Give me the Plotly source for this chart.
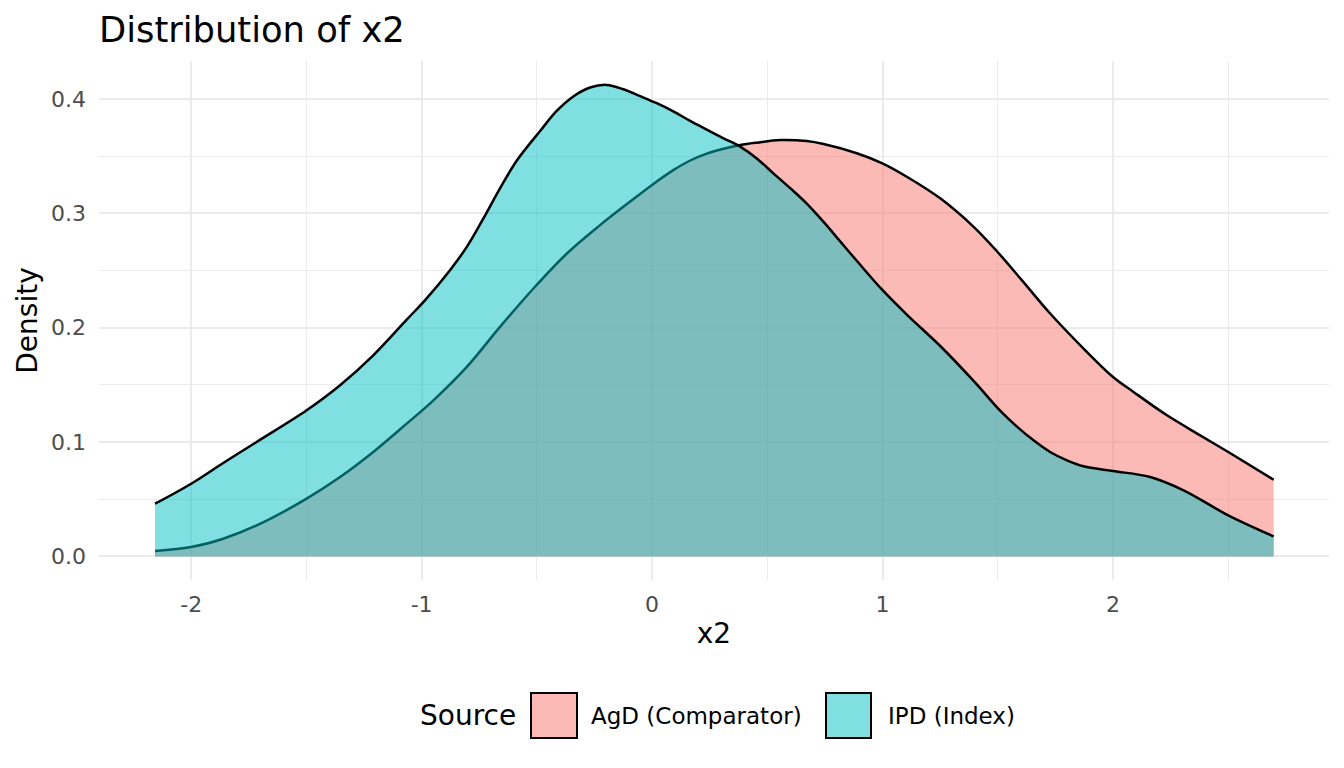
import plotly.graph_objects as go

# ---- data ----
ipd_x = [-2.157, -2.0, -1.861, -1.716, -1.499, -1.354, -1.21, -1.065, -0.985, -0.877,
         -0.804, -0.732, -0.660, -0.587, -0.486, -0.414, -0.342, -0.269, -0.197, -0.125,
         -0.052, 0.020, 0.092, 0.165, 0.237, 0.310, 0.382, 0.454, 0.526, 0.599,
         0.671, 0.744, 0.816, 0.888, 0.999, 1.105, 1.25, 1.395, 1.510, 1.583,
         1.655, 1.727, 1.800, 1.872, 2.0, 2.161, 2.306, 2.5, 2.697]
ipd_y = [0.0461, 0.0636, 0.0817, 0.1001, 0.1278, 0.1497, 0.1759, 0.2070, 0.2241, 0.2503,
         0.2707, 0.2956, 0.3218, 0.3462, 0.3720, 0.3895, 0.4022, 0.4100, 0.4123, 0.4085,
         0.4025, 0.3963, 0.3892, 0.3808, 0.3732, 0.3656, 0.3583, 0.3480, 0.3350, 0.3220,
         0.3085, 0.2925, 0.2755, 0.2585, 0.2330, 0.2115, 0.1840, 0.1535, 0.1275, 0.1135,
         0.1015, 0.0913, 0.0840, 0.0788, 0.0747, 0.0694, 0.0578, 0.0359, 0.0175]

agd_x = [-2.157, -2.0, -1.861, -1.716, -1.499, -1.354, -1.21, -1.065, -0.949, -0.804,
         -0.660, -0.515, -0.370, -0.226, -0.081, 0.004, 0.092, 0.165, 0.237, 0.310,
         0.382, 0.454, 0.556, 0.671, 0.744, 0.888, 0.999, 1.105, 1.25, 1.395,
         1.498, 1.604, 1.727, 1.872, 2.0, 2.089, 2.234, 2.378, 2.5, 2.697]
agd_y = [0.0047, 0.0082, 0.0155, 0.0271, 0.0505, 0.0694, 0.0913, 0.1161, 0.1365, 0.1657,
         0.2007, 0.2343, 0.2649, 0.2897, 0.3125, 0.3255, 0.3378, 0.3462, 0.3522, 0.3565,
         0.3597, 0.3618, 0.3641, 0.3632, 0.3606, 0.3525, 0.3437, 0.3320, 0.3131, 0.2882,
         0.2664, 0.2416, 0.2124, 0.1818, 0.1569, 0.1438, 0.1234, 0.1059, 0.0913, 0.0671]

series_names = ["AgD (Comparator)", "IPD (Index)"]
x_tick_vals = [-2, -1, 0, 1, 2]
x_tick_text = ["-2", "-1", "0", "1", "2"]
y_tick_vals = [0.0, 0.1, 0.2, 0.3, 0.4]
y_tick_text = ["0.0", "0.1", "0.2", "0.3", "0.4"]

fills = ["rgba(248,118,109,0.5)", "rgba(0,191,196,0.5)"]
FONT = "DejaVu Sans"

fig = go.Figure()
for name, xs, ys, fc in [(series_names[0], agd_x, agd_y, fills[0]),
                         (series_names[1], ipd_x, ipd_y, fills[1])]:
    fig.add_trace(go.Scatter(
        x=xs, y=ys, name=name, mode="lines", fill="tozeroy", fillcolor=fc,
        line=dict(color="black", width=2.5, shape="spline", smoothing=1.0),
        showlegend=False, hoverinfo="skip"))

grid_major = "#EBEBEB"
fig.update_layout(
    width=1344, height=768,
    margin=dict(l=99, r=15, t=61, b=188),
    paper_bgcolor="white", plot_bgcolor="white",
    font=dict(family=FONT, color="black"),
    title=dict(text="Distribution of x2", x=99 / 1344, xanchor="left",
               xref="container", yref="container", y=1 - 30 / 768, yanchor="middle",
               font=dict(size=35.3, color="black", family=FONT)),
    xaxis=dict(range=[-2.40, 2.937], tickvals=x_tick_vals, ticktext=x_tick_text,
               showgrid=True, gridcolor=grid_major, gridwidth=2, zeroline=False,
               showline=False, ticks="", ticklabelstandoff=9,
               tickfont=dict(size=22, color="#4D4D4D", family=FONT),
               minor=dict(dtick=0.5, tick0=0, showgrid=True, gridcolor=grid_major, gridwidth=1),
               title=dict(text="x2", font=dict(size=28, color="black", family=FONT), standoff=7)),
    yaxis=dict(range=[-0.0206, 0.4332], tickvals=y_tick_vals, ticktext=y_tick_text,
               showgrid=True, gridcolor=grid_major, gridwidth=2, zeroline=False,
               showline=False, ticks="", ticklabelstandoff=12,
               tickfont=dict(size=22, color="#4D4D4D", family=FONT),
               minor=dict(dtick=0.05, tick0=0, showgrid=True, gridcolor=grid_major, gridwidth=1),
               title=dict(text="Density", font=dict(size=28, color="black", family=FONT), standoff=5)),
)

# ---- manual legend (ggplot-style, bottom) ----
def px_x(p):
    return (p - 99) / 1230

def px_y(p):
    return (580 - p) / 519

leg_mid = 715.5
fig.add_annotation(text="Source", xref="paper", yref="paper", x=px_x(418), y=px_y(leg_mid),
                   xanchor="left", yanchor="middle", showarrow=False,
                   font=dict(size=28, color="black", family=FONT))
key_specs = [(531, 577, 589, series_names[0], fills[0]),
             (826, 871, 886, series_names[1], fills[1])]
for kx0, kx1, tx, label, fc in key_specs:
    fig.add_shape(type="rect", xref="paper", yref="paper",
                  x0=px_x(kx0), x1=px_x(kx1), y0=px_y(738), y1=px_y(693),
                  fillcolor=fc, line=dict(color="black", width=2))
    fig.add_annotation(text=label, xref="paper", yref="paper", x=px_x(tx), y=px_y(leg_mid),
                       xanchor="left", yanchor="middle", showarrow=False,
                       font=dict(size=23, color="black", family=FONT))

fig.write_html("out.html", config={"displayModeBar": False},
               post_script="document.body.style.margin='0px';")
